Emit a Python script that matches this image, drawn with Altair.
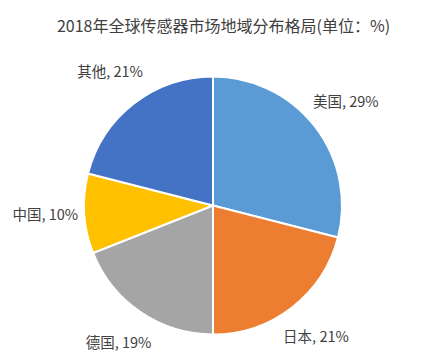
import altair as alt
import pandas as pd

regions = ["美国", "日本", "德国", "中国", "其他"]
shares = [29, 21, 19, 10, 21]
colors = ["#5B9BD5", "#ED7D31", "#A5A5A5", "#FFC000", "#4472C4"]

df = pd.DataFrame({
    "region": regions,
    "share": shares,
    "idx": list(range(len(regions))),
})
df["label"] = df["region"] + ", " + df["share"].astype(str) + "%"

FONT = "Noto Sans CJK SC"

base = alt.Chart(df).encode(
    theta=alt.Theta("share:Q", stack=True),
    order=alt.Order("idx:Q"),
)

pie = base.mark_arc(radius=129, stroke="white", strokeWidth=2).encode(
    color=alt.Color("region:N", scale=alt.Scale(domain=regions, range=colors), legend=None),
    x=alt.value(213),
    y=alt.value(160.5),
)

labels = base.mark_text(radius=168, font=FONT, fontSize=14.5, color="#404040").encode(
    text="label:N",
    x=alt.value(213),
    y=alt.value(160.5),
)

chart = (pie + labels).properties(
    width=433,
    height=308,
    padding={"top": 45, "left": 0, "right": 0, "bottom": 0},
    autosize=alt.AutoSizeParams(type="none"),
    title=alt.TitleParams(
        "2018年全球传感器市场地域分布格局(单位：%)",
        font=FONT, fontSize=16, fontWeight="normal", color="#404040",
        anchor="middle", dx=7, offset=10,
    ),
).configure_view(stroke=None)

chart.save("out.html", embed_options={"renderer": "svg", "actions": False})
